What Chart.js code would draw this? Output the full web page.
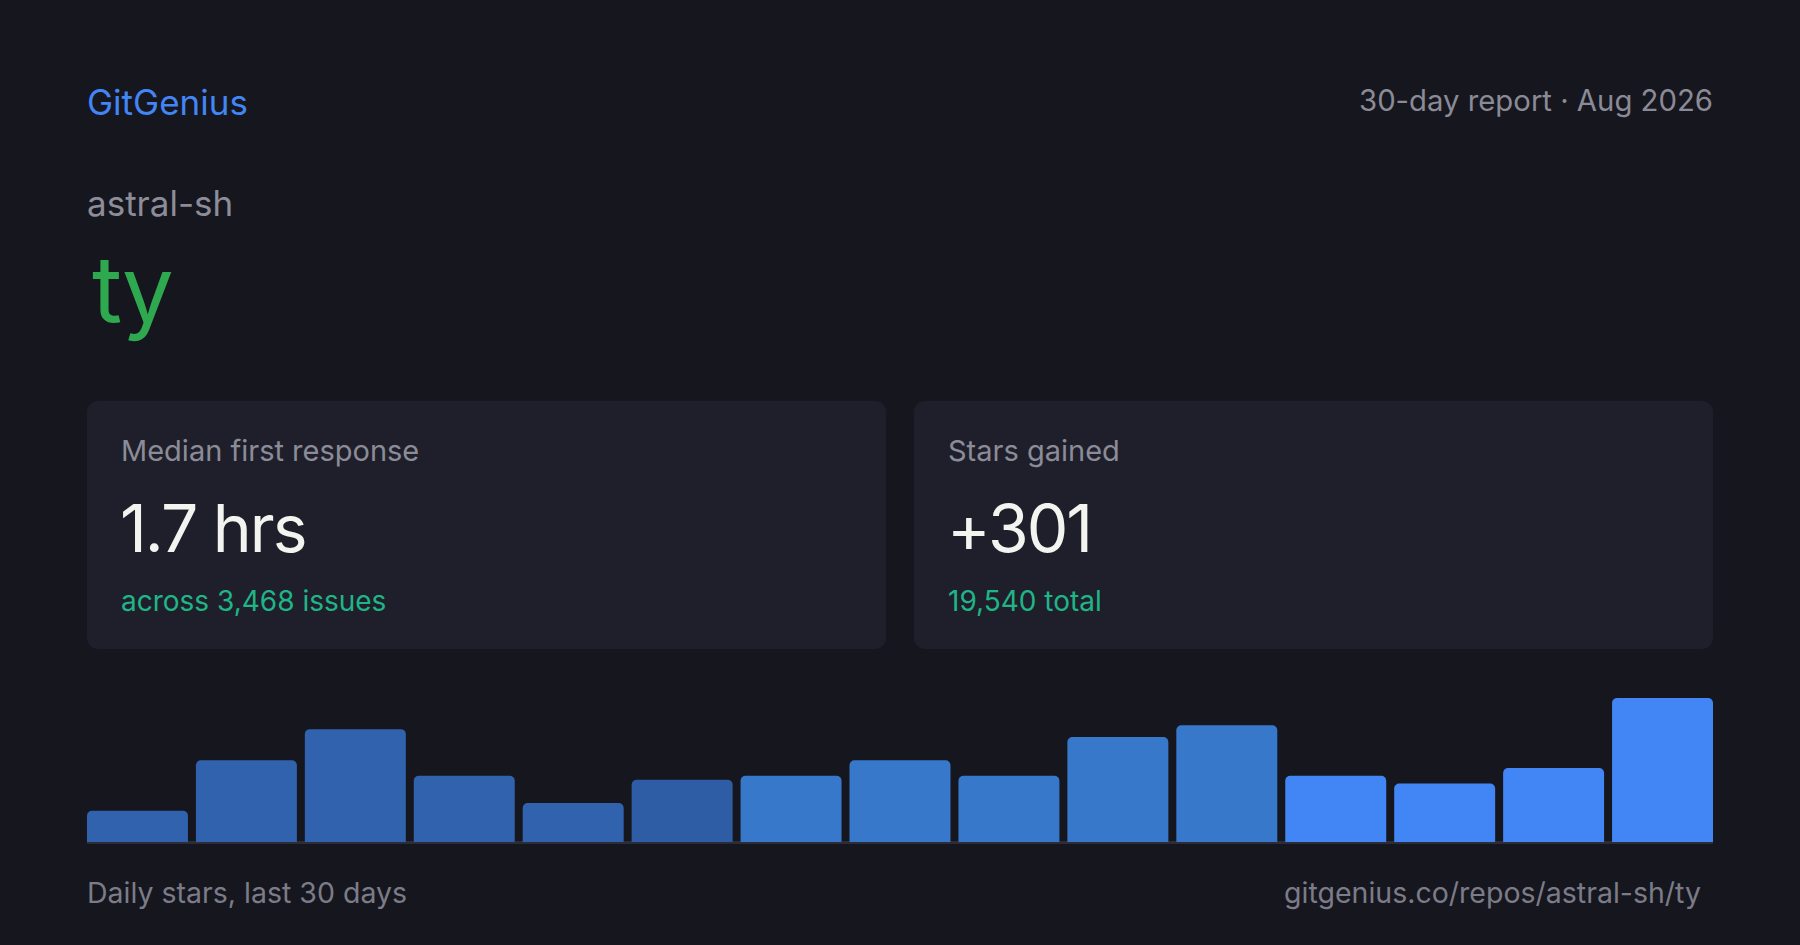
<!DOCTYPE html>
<html>
<head>
<meta charset="utf-8">
<script src="https://cdn.jsdelivr.net/npm/chart.js@4/dist/chart.umd.min.js"></script>
<style>
  html, body { margin: 0; padding: 0; }
  body { width: 1800px; height: 945px; background: #16161f; font-family: Inter, "Noto Sans", sans-serif; position: relative; overflow: hidden; }
  .t { position: absolute; line-height: 1; white-space: nowrap; }
  .brand { left: 87px; top: 85px; font-size: 35px; color: #4285f4; }
  .report { right: 87px; top: 86px; font-size: 29.3px; color: #8a8b96; }
  .owner { left: 87px; top: 186px; font-size: 35px; color: #8c8d98; }
  .repo { left: 92px; top: 243px; font-size: 92px; color: #2ea94f; letter-spacing: -2px; }
  .card { position: absolute; top: 401px; width: 799px; height: 248px; background: #1f1f2b; border-radius: 11px; }
  .card .label { left: 34px; top: 35px; font-size: 29px; color: #8b8c97; }
  .card .value { left: 33px; top: 94px; font-size: 66px; color: #f3f3ef; letter-spacing: -2px; }
  .card .sub { left: 34px; top: 186px; font-size: 28px; color: #1fb586; }
  .foot-l { left: 87px; top: 879px; font-size: 28.5px; color: #7b7c87; }
  .foot-r { right: 99px; top: 879px; font-size: 28.5px; color: #7b7c87; }
  #chartBox { position: absolute; left: 83px; top: 698px; width: 1634px; height: 146px; }
</style>
</head>
<body>
<div class="t brand">GitGenius</div>
<div class="t report">30-day report · Aug 2026</div>
<div class="t owner">astral-sh</div>
<div class="t repo">ty</div>

<div class="card" style="left:87px">
  <div class="t label">Median first response</div>
  <div class="t value">1.7 hrs</div>
  <div class="t sub">across 3,468 issues</div>
</div>
<div class="card" style="left:914px">
  <div class="t label">Stars gained</div>
  <div class="t value">+301</div>
  <div class="t sub">19,540 total</div>
</div>

<div id="chartBox"><canvas id="starsChart"></canvas></div>

<div class="t foot-l">Daily stars, last 30 days</div>
<div class="t foot-r">gitgenius.co/repos/astral-sh/ty</div>

<script>
// 15 buckets of two days each
const buckets = ['1', '2', '3', '4', '5', '6', '7', '8', '9', '10', '11', '12', '13', '14', '15'];
const stars = [8, 21, 29, 17, 10, 16, 17, 21, 17, 27, 30, 17, 15, 19, 37];
const barColors = [
  '#3062ad', '#3062ad', '#3062ad', '#3062ad', '#3062ad', '#2e5da6',
  '#3778cb', '#3778cb', '#3778cb', '#3778cb', '#3778cb',
  '#4285f4', '#4285f4', '#4285f4', '#4285f4'
];

// baseline under the bars, from first bar's left edge to last bar's right edge
const baseline = {
  id: 'baseline',
  beforeDatasetsDraw(chart) {
    const bars = chart.getDatasetMeta(0).data;
    if (!bars.length) return;
    const first = bars[0], last = bars[bars.length - 1];
    const ctx = chart.ctx;
    ctx.save();
    ctx.fillStyle = '#2b2c38';
    ctx.fillRect(first.x - first.width / 2, chart.chartArea.bottom - 1, (last.x + last.width / 2) - (first.x - first.width / 2), 3);
    ctx.restore();
  }
};

new Chart(document.getElementById('starsChart'), {
  type: 'bar',
  data: {
    labels: buckets,
    datasets: [{
      label: 'Stars',
      data: stars,
      backgroundColor: barColors,
      borderRadius: { topLeft: 5, topRight: 5, bottomLeft: 0, bottomRight: 0 },
      borderSkipped: 'bottom',
      barPercentage: 0.927,
      categoryPercentage: 1
    }]
  },
  options: {
    responsive: true,
    maintainAspectRatio: false,
    animation: false,
    layout: { padding: { top: 0, bottom: 2, left: 0, right: 0 } },
    plugins: { legend: { display: false }, tooltip: { enabled: false } },
    scales: {
      x: { ticks: { display: false }, grid: { display: false, drawTicks: false }, border: { display: false } },
      y: { display: false, min: 0, max: 37 }
    }
  },
  plugins: [baseline]
});
</script>
</body>
</html>
